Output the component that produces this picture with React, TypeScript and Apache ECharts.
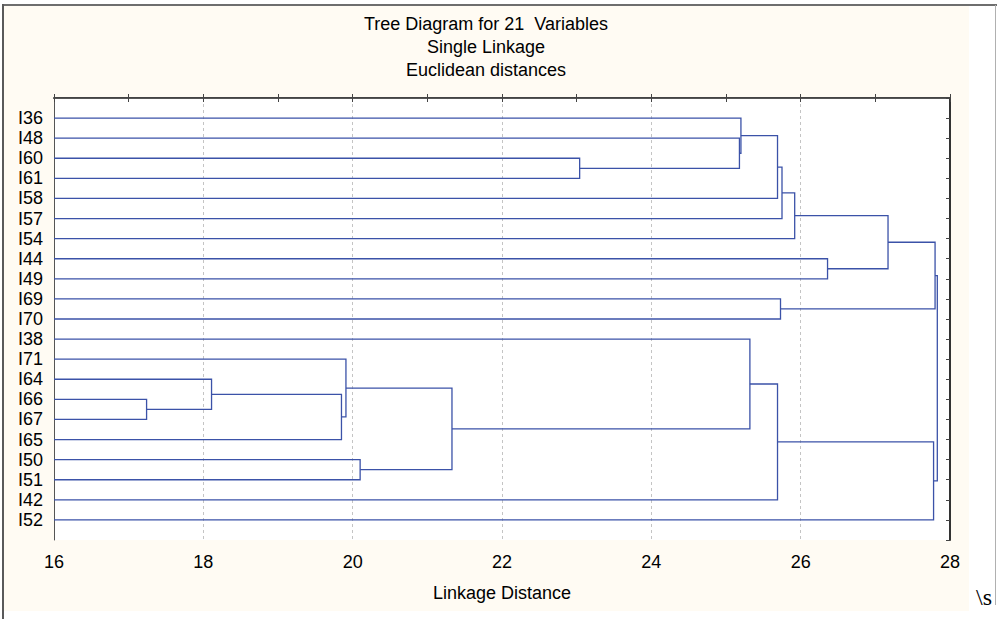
import React, { useEffect, useRef } from "react";
import * as echarts from "echarts";

const titleLines = ["Tree Diagram for 21  Variables", "Single Linkage", "Euclidean distances"];
const axisTitle = "Linkage Distance";

// leaves, top to bottom
const leaves = [
  "I36", "I48", "I60", "I61", "I58", "I57", "I54", "I44", "I49", "I69", "I70",
  "I38", "I71", "I64", "I66", "I67", "I65", "I50", "I51", "I42", "I52",
];

// merges: child index < 21 is a leaf, otherwise merge (index - 21)
const mergeLeft = [14, 13, 22, 12, 17, 24, 2, 1, 0, 11, 29, 30, 9, 31, 34, 7, 35, 32, 37, 39];
const mergeRight = [15, 21, 16, 23, 18, 25, 3, 27, 28, 26, 4, 19, 10, 5, 6, 8, 36, 20, 33, 38];
const mergeDistance = [
  17.24, 18.11, 19.85, 19.91, 20.1, 21.33, 23.04, 25.18, 25.2, 25.32,
  25.69, 25.69, 25.73, 25.75, 25.92, 26.36, 27.17, 27.78, 27.8, 27.83,
];

const xTicks = { min: 16, max: 28, step: 2 };

const FONT = 'Arial, "Liberation Sans", Helvetica, sans-serif';

function buildSegments() {
  const n = leaves.length;
  const pos: [number, number][] = leaves.map((_, i) => [xTicks.min, i + 1]);
  const segs: number[][] = [];
  for (let k = 0; k < mergeDistance.length; k++) {
    const a = pos[mergeLeft[k]];
    const b = pos[mergeRight[k]];
    const h = mergeDistance[k];
    segs.push([a[0], a[1], b[0], b[1], h]);
    pos[n + k] = [h, (a[1] + b[1]) / 2];
  }
  return segs;
}

export default function App() {
  const ref = useRef<HTMLDivElement>(null);
  useEffect(() => {
    document.body.style.margin = "0";
    const chart = echarts.init(ref.current!, undefined, { renderer: "svg" });
    const segs = buildSegments();
    const lineColor = "#3b52a8";
    const option: any = {
      animation: false,
      backgroundColor: "transparent",
      grid: {
        left: 54, top: 98, width: 896, height: 442,
        show: true, backgroundColor: "#ffffff", borderWidth: 0,
      },
      graphic: [
        ...titleLines.map((t, i) => ({
          type: "text", x: 486, y: 24 + i * 23,
          style: { text: t, fill: "#000", font: `18px ${FONT}`, textAlign: "center", textVerticalAlign: "middle" },
        })),
        {
          type: "text", x: 976, y: 597,
          style: { text: "\\s", fill: "#000", font: '24px "Times New Roman", "Liberation Serif", serif', textAlign: "left", textVerticalAlign: "middle" },
        },
      ],
      xAxis: [
        {
          type: "value", min: xTicks.min, max: xTicks.max, interval: xTicks.step, position: "bottom",
          axisLine: { show: true, lineStyle: { color: "#444", width: 2 } },
          axisTick: { show: true, inside: true, length: 4, lineStyle: { color: "#444" } },
          minorTick: { show: true, splitNumber: 2, length: 4, lineStyle: { color: "#444" } },
          axisLabel: { margin: 13, fontSize: 18, color: "#000", fontFamily: FONT },
          splitLine: { show: true, lineStyle: { type: [3, 3], color: "#c4c4c4", width: 1 } },
          name: axisTitle, nameLocation: "middle", nameGap: 44,
          nameTextStyle: { fontSize: 18, color: "#000", fontFamily: FONT },
        },
        {
          type: "value", min: xTicks.min, max: xTicks.max, interval: xTicks.step, position: "top",
          axisLine: { show: true, lineStyle: { color: "#555", width: 1 } },
          axisTick: { show: true, inside: true, length: 4, lineStyle: { color: "#444" } },
          minorTick: { show: true, splitNumber: 2, length: 4, lineStyle: { color: "#444" } },
          axisLabel: { show: false },
          splitLine: { show: false },
        },
      ],
      yAxis: [
        {
          type: "value", min: 0, max: leaves.length + 1, interval: 1, inverse: true, position: "left",
          axisLine: { show: true, lineStyle: { color: "#555", width: 1 } },
          axisTick: { show: false },
          axisLabel: {
            margin: 11, fontSize: 18, color: "#000", fontFamily: FONT,
            formatter: (v: number) => leaves[v - 1] ?? "",
          },
          splitLine: { show: false },
        },
        {
          type: "value", min: 0, max: leaves.length + 1, interval: 1, inverse: true, position: "right",
          axisLine: { show: true, lineStyle: { color: "#333", width: 2 } },
          axisTick: { show: true, inside: true, length: 4, lineStyle: { color: "#444" } },
          axisLabel: { show: false },
          splitLine: { show: false },
        },
      ],
      series: [
        {
          type: "custom",
          xAxisIndex: 0,
          yAxisIndex: 0,
          clip: false,
          data: segs,
          renderItem: (params: any, api: any) => {
            const xa = api.value(0), ya = api.value(1), xb = api.value(2), yb = api.value(3), h = api.value(4);
            const pts = [api.coord([xa, ya]), api.coord([h, ya]), api.coord([h, yb]), api.coord([xb, yb])];
            return {
              type: "polyline",
              shape: { points: pts },
              style: { stroke: lineColor, lineWidth: 1.3, fill: "none" },
            };
          },
        },
      ],
    };
    chart.setOption(option);
    return () => chart.dispose();
  }, []);

  return (
    <div style={{ position: "fixed", left: 0, top: 0, width: 997, height: 619, background: "#ffffff", overflow: "hidden" }}>
      <div style={{ position: "absolute", left: 4, top: 6, width: 965, height: 605, background: "#fffbf3" }} />
      <div style={{ position: "absolute", left: 3, top: 4, width: 994, height: 2, background: "#6e6e6e" }} />
      <div style={{ position: "absolute", left: 2, top: 4, width: 2, height: 615, background: "#5a5a5a" }} />
      <div style={{ position: "absolute", left: 995, top: 5, width: 1, height: 600, background: "#b0b0b0" }} />
      <div ref={ref} style={{ position: "absolute", left: 0, top: 0, width: 997, height: 619 }} />
    </div>
  );
}
